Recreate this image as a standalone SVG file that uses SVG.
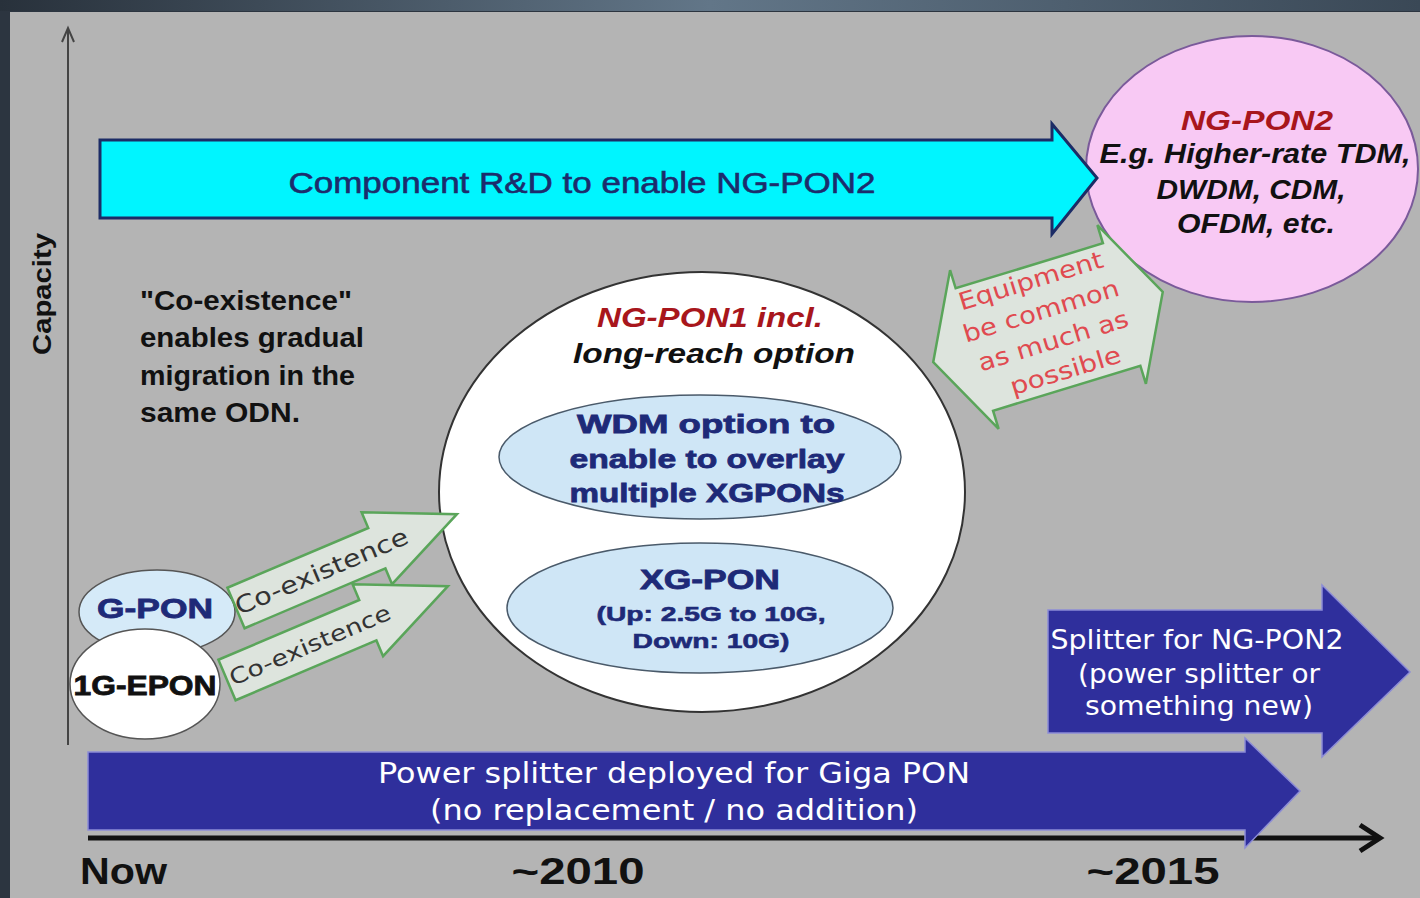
<svg xmlns="http://www.w3.org/2000/svg" width="1420" height="898" viewBox="0 0 1420 898">
<defs>
<linearGradient id="topg" x1="0" y1="0" x2="1" y2="0">
<stop offset="0" stop-color="#28313b"/>
<stop offset="0.5" stop-color="#627688"/>
<stop offset="1" stop-color="#3a4856"/>
</linearGradient>
<style>
.ls{font-family:"Liberation Sans",Arial,sans-serif}
.dv{font-family:"DejaVu Sans",Verdana,sans-serif}
.b{font-weight:bold}
.i{font-style:italic}
.mid{text-anchor:middle}
.blue{fill:#2f2f9c;stroke:#8c8cd6;stroke-width:1.5}
.green{fill:#dde4dd;stroke:#5aa55a;stroke-width:2.5}
.navy{fill:#1e2a78}
.red{fill:#a8161c}
.wt{fill:#ffffff}
</style>
</defs>

<g id="background">
<rect width="1420" height="898" fill="#2c3540"/>
<rect x="0" y="0" width="1420" height="11" fill="url(#topg)"/>
<rect x="10" y="12" width="1410" height="886" fill="#b4b4b4"/>
</g>

<g id="axes" fill="none">
<line x1="68" y1="745" x2="68" y2="30" stroke="#444" stroke-width="2"/>
<path d="M62,42 L68,28 L74,42" stroke="#444" stroke-width="2"/>
<line x1="88" y1="838" x2="1378" y2="838" stroke="#111" stroke-width="5"/>
<path d="M1360,825 L1380,838 L1360,851" stroke="#111" stroke-width="5"/>
</g>

<g id="axis-labels">
<text class="ls b" x="0" y="0" font-size="26" fill="#111" transform="translate(51,355) rotate(-90)" textLength="122" lengthAdjust="spacingAndGlyphs">Capacity</text>
<text class="ls b" x="80" y="884" font-size="36" fill="#111" textLength="87" lengthAdjust="spacingAndGlyphs">Now</text>
<text class="ls b mid" x="578" y="884" font-size="36" fill="#111" textLength="133" lengthAdjust="spacingAndGlyphs">~2010</text>
<text class="ls b mid" x="1153" y="884" font-size="36" fill="#111" textLength="133" lengthAdjust="spacingAndGlyphs">~2015</text>
</g>

<g id="ngpon2">
<ellipse cx="1252" cy="169" rx="166" ry="133" fill="#f8c9f4" stroke="#7a5a9a" stroke-width="2"/>
<text class="ls b i red mid" x="1257" y="130" font-size="27" textLength="152" lengthAdjust="spacingAndGlyphs">NG-PON2</text>
<text class="ls b i mid" x="1255" y="163" font-size="27" fill="#111" textLength="311" lengthAdjust="spacingAndGlyphs">E.g. Higher-rate TDM,</text>
<text class="ls b i mid" x="1251" y="199" font-size="27" fill="#111" textLength="189" lengthAdjust="spacingAndGlyphs">DWDM, CDM,</text>
<text class="ls b i mid" x="1256" y="233" font-size="27" fill="#111" textLength="158" lengthAdjust="spacingAndGlyphs">OFDM, etc.</text>
</g>

<g id="component-rd">
<polygon points="100,140 1052,140 1052,124 1097,178 1052,234 1052,218 100,218" fill="#00f5ff" stroke="#1c2c66" stroke-width="3"/>
<text class="ls mid" x="582" y="193" font-size="30" fill="#1c2c6c" stroke="#1c2c6c" stroke-width="0.6" textLength="587" lengthAdjust="spacingAndGlyphs">Component R&amp;D to enable NG-PON2</text>
</g>

<g id="coexistence-note">
<text class="ls b" x="140" y="310" font-size="28" fill="#111" textLength="212" lengthAdjust="spacingAndGlyphs">"Co-existence"</text>
<text class="ls b" x="140" y="347" font-size="28" fill="#111" textLength="224" lengthAdjust="spacingAndGlyphs">enables gradual</text>
<text class="ls b" x="140" y="385" font-size="28" fill="#111" textLength="215" lengthAdjust="spacingAndGlyphs">migration in the</text>
<text class="ls b" x="140" y="422" font-size="28" fill="#111" textLength="160" lengthAdjust="spacingAndGlyphs">same ODN.</text>
</g>

<g id="ngpon1">
<ellipse cx="702" cy="492" rx="263" ry="220" fill="#ffffff" stroke="#333" stroke-width="2"/>
<text class="ls b i red mid" x="710" y="327" font-size="27" textLength="226" lengthAdjust="spacingAndGlyphs">NG-PON1 incl.</text>
<text class="ls b i mid" x="714" y="363" font-size="28" fill="#111" textLength="282" lengthAdjust="spacingAndGlyphs">long-reach option</text>
</g>

<g id="wdm-option">
<ellipse cx="700" cy="457" rx="201" ry="62" fill="#cfe6f6" stroke="#4a5a6a" stroke-width="1.5"/>
<text class="ls b navy mid" x="706" y="433" font-size="26" stroke="#1e2a78" stroke-width="0.8" textLength="258" lengthAdjust="spacingAndGlyphs">WDM option to</text>
<text class="ls b navy mid" x="707" y="468" font-size="26" stroke="#1e2a78" stroke-width="0.8" textLength="275" lengthAdjust="spacingAndGlyphs">enable to overlay</text>
<text class="ls b navy mid" x="707" y="502" font-size="26" stroke="#1e2a78" stroke-width="0.8" textLength="275" lengthAdjust="spacingAndGlyphs">multiple XGPONs</text>
</g>

<g id="xg-pon">
<ellipse cx="700" cy="608" rx="193" ry="65" fill="#cfe6f6" stroke="#4a5a6a" stroke-width="1.5"/>
<text class="ls b navy mid" x="710" y="589" font-size="27" stroke="#1e2a78" stroke-width="0.8" textLength="140" lengthAdjust="spacingAndGlyphs">XG-PON</text>
<text class="ls b navy mid" x="711" y="621" font-size="21" stroke="#1e2a78" stroke-width="0.6" textLength="229" lengthAdjust="spacingAndGlyphs">(Up: 2.5G to 10G,</text>
<text class="ls b navy mid" x="711" y="648" font-size="21" stroke="#1e2a78" stroke-width="0.6" textLength="157" lengthAdjust="spacingAndGlyphs">Down: 10G)</text>
</g>

<g id="g-pon">
<ellipse cx="157" cy="612" rx="78" ry="42" fill="#d5eaf8" stroke="#555" stroke-width="1.5"/>
<text class="ls b navy mid" x="155" y="618" font-size="27" stroke="#1e2a78" stroke-width="0.8" textLength="116" lengthAdjust="spacingAndGlyphs">G-PON</text>
</g>

<g id="epon">
<ellipse cx="145" cy="684" rx="75" ry="55" fill="#ffffff" stroke="#555" stroke-width="1.5"/>
<text class="ls b mid" x="145" y="695" font-size="27" fill="#111" stroke="#111" stroke-width="0.8" textLength="143" lengthAdjust="spacingAndGlyphs">1G-EPON</text>
</g>

<g id="connectors">
<g id="coexist-upper" transform="translate(236,608) rotate(-23)">
<polygon class="green" points="0,-22 153,-22 153,-39 240,0 153,39 153,22 0,22"/>
<text class="dv mid" x="93" y="8" font-size="24" fill="#333" textLength="186" lengthAdjust="spacingAndGlyphs">Co-existence</text>
</g>
<g id="coexist-lower" transform="translate(227,680) rotate(-23)">
<polygon class="green" points="0,-22 153,-22 153,-39 240,0 153,39 153,22 0,22"/>
<text class="dv mid" x="90" y="8" font-size="22" fill="#333" textLength="173" lengthAdjust="spacingAndGlyphs">Co-existence</text>
</g>
<g id="equipment-common" transform="translate(1048,327) rotate(-17)">
<polygon class="green" points="-120,0 -77,-83 -77,-64 77,-64 77,-83 120,0 77,83 77,64 -77,64 -77,83"/>
<text class="dv mid" x="-3" y="-41" font-size="24" fill="#e04a50" textLength="150" lengthAdjust="spacingAndGlyphs">Equipment</text>
<text class="dv mid" x="-2" y="-9" font-size="24" fill="#e04a50" textLength="162" lengthAdjust="spacingAndGlyphs">be common</text>
<text class="dv mid" x="1" y="23" font-size="24" fill="#e04a50" textLength="156" lengthAdjust="spacingAndGlyphs">as much as</text>
<text class="dv mid" x="4" y="55" font-size="24" fill="#e04a50" textLength="115" lengthAdjust="spacingAndGlyphs">possible</text>
</g>
</g>

<g id="splitter-ngpon2">
<polygon class="blue" points="1048,610 1322,610 1322,585 1410,672 1322,757 1322,733 1048,733"/>
<text class="dv mid wt" x="1197" y="649" font-size="26" textLength="293" lengthAdjust="spacingAndGlyphs">Splitter for NG-PON2</text>
<text class="dv mid wt" x="1199" y="683" font-size="26" textLength="242" lengthAdjust="spacingAndGlyphs">(power splitter or</text>
<text class="dv mid wt" x="1199" y="715" font-size="26" textLength="228" lengthAdjust="spacingAndGlyphs">something new)</text>
</g>

<g id="power-splitter">
<polygon class="blue" points="88,752 1245,752 1245,738 1300,791 1245,848 1245,830 88,830"/>
<text class="dv mid wt" x="674" y="783" font-size="29" textLength="592" lengthAdjust="spacingAndGlyphs">Power splitter deployed for Giga PON</text>
<text class="dv mid wt" x="674" y="820" font-size="29" textLength="488" lengthAdjust="spacingAndGlyphs">(no replacement / no addition)</text>
</g>
</svg>
